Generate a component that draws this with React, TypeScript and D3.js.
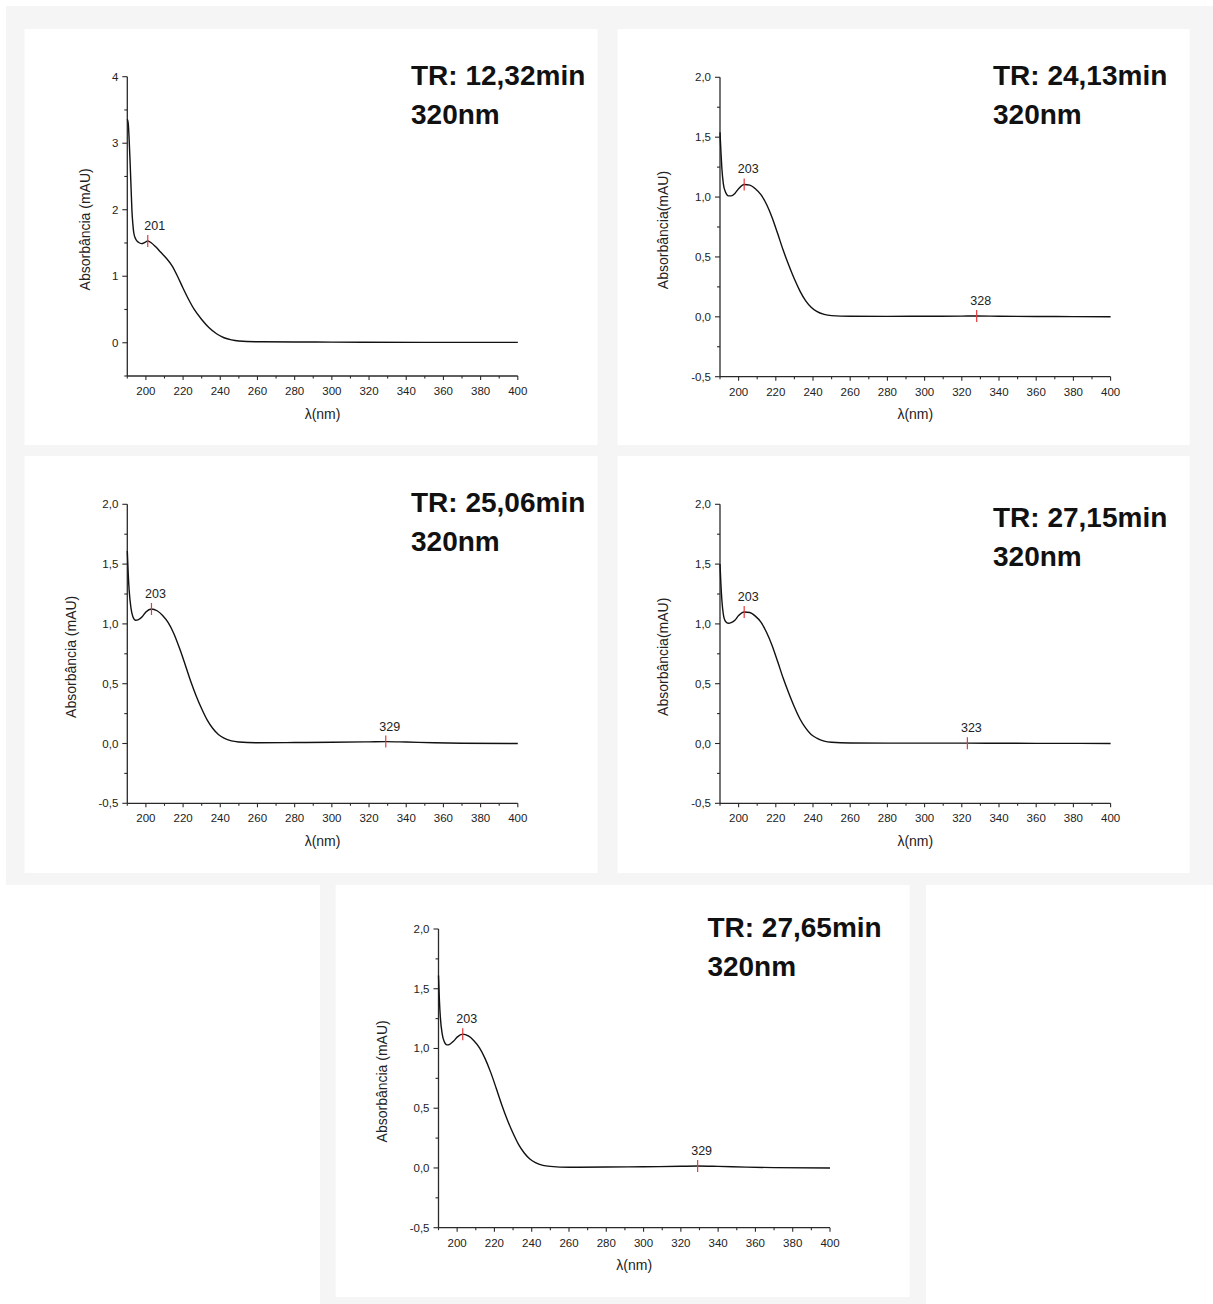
import React from "react";
import * as d3 from "d3";

const W = 1213;
const H = 1304;

// ---------- data ----------
const titles = ["TR: 12,32min", "TR: 24,13min", "TR: 25,06min", "TR: 27,15min", "TR: 27,65min"];
const subtitle = "320nm";
const yLabels = ["Absorbância (mAU)", "Absorbância(mAU)", "Absorbância (mAU)", "Absorbância(mAU)", "Absorbância (mAU)"];
const xLabel = "λ(nm)";
const xTicks = [200, 220, 240, 260, 280, 300, 320, 340, 360, 380, 400];
const xMinor = [190, 210, 230, 250, 270, 290, 310, 330, 350, 370, 390];
const yTicksA = [0, 1, 2, 3, 4];
const yMinorA = [-0.5, 0.5, 1.5, 2.5, 3.5];
const yTicksB = [-0.5, 0, 0.5, 1, 1.5, 2];
const yMinorB = [-0.25, 0.25, 0.75, 1.25, 1.75];

const wl1 = [190, 190.5, 191, 191.5, 192, 192.5, 193, 193.5, 194.5, 196, 197.7, 199.5, 201, 203, 205, 208, 211, 214, 217, 220, 223, 226, 230, 234, 238, 242, 246, 250, 260, 280, 300, 350, 400];
const abs1 = [3.36, 3.3, 3.05, 2.72, 2.35, 1.98, 1.78, 1.65, 1.56, 1.51, 1.49, 1.51, 1.53, 1.5, 1.45, 1.36, 1.27, 1.16, 1.0, 0.82, 0.65, 0.5, 0.35, 0.225, 0.135, 0.075, 0.043, 0.027, 0.015, 0.012, 0.01, 0.005, 0.005];

const wl2 = [190, 190.5, 191, 191.8, 193, 194.5, 196, 198, 200, 203, 206, 209, 212, 215, 218, 221, 224, 227, 230, 233, 236, 239, 242, 246, 250, 260, 280, 300, 320, 328, 340, 360, 380, 400];
const abs2 = [1.54, 1.38, 1.24, 1.11, 1.04, 1.01, 1.01, 1.03, 1.07, 1.105, 1.1, 1.07, 1.02, 0.94, 0.83, 0.695, 0.555, 0.43, 0.315, 0.215, 0.135, 0.08, 0.045, 0.02, 0.01, 0.005, 0.004, 0.005, 0.006, 0.007, 0.005, 0.003, 0.002, 0.0];

const wl3 = [190, 190.5, 191, 192, 193, 194.5, 196, 198, 200, 203, 206, 209, 212, 215, 218, 221, 224, 227, 230, 233, 236, 239, 242, 246, 250, 260, 280, 300, 320, 329, 340, 355, 370, 400];
const abs3 = [1.61, 1.42, 1.28, 1.13, 1.06, 1.03, 1.035, 1.06, 1.1, 1.125, 1.11, 1.07, 1.01, 0.92, 0.8, 0.665, 0.525, 0.4, 0.29, 0.195, 0.125, 0.075, 0.045, 0.022, 0.013, 0.006, 0.008, 0.01, 0.014, 0.016, 0.012, 0.006, 0.002, 0.0];

const wl4 = [190, 190.5, 191, 191.8, 193, 194.5, 196, 198, 200, 203, 206, 209, 212, 215, 218, 221, 224, 227, 230, 233, 236, 239, 242, 246, 250, 260, 280, 300, 315, 323, 340, 360, 380, 400];
const abs4 = [1.5, 1.33, 1.2, 1.08, 1.02, 1.005, 1.01, 1.03, 1.07, 1.1, 1.095, 1.065, 1.015, 0.93, 0.82, 0.685, 0.545, 0.42, 0.305, 0.205, 0.13, 0.075, 0.045, 0.02, 0.01, 0.004, 0.003, 0.003, 0.003, 0.003, 0.002, 0.001, 0.001, 0.0];

const wl5 = [190, 190.5, 191, 192, 193, 194.5, 196, 198, 200, 203, 206, 209, 212, 215, 218, 221, 224, 227, 230, 233, 236, 239, 242, 246, 250, 260, 280, 300, 320, 329, 340, 355, 370, 400];
const abs5 = [1.61, 1.4, 1.26, 1.12, 1.06, 1.03, 1.035, 1.06, 1.095, 1.12, 1.105, 1.065, 1.005, 0.915, 0.8, 0.665, 0.525, 0.4, 0.29, 0.195, 0.125, 0.075, 0.045, 0.022, 0.013, 0.006, 0.008, 0.01, 0.014, 0.016, 0.013, 0.007, 0.003, 0.0];

const peaks1 = [201];
const peaks2 = [203, 328];
const peaks3 = [203, 329];
const peaks4 = [203, 323];
const peaks5 = [203, 329];

const yDomA = [-0.5, 4];
const yDomB = [-0.5, 2];
const xDom = [190, 400];

// ---------- layout ----------
const layouts = [
  { px: 24.5, py: 29, pw: 573, ph: 416, x0: 127.3, x1: 517.8, yT: 76.7, yB: 376, tx: 411, ty: 85, ylx: 85, ldx: 7 },
  { px: 617.6, py: 29, pw: 572, ph: 416, x0: 720, x1: 1110.6, yT: 77.3, yB: 376.7, tx: 993, ty: 85, ylx: 663, ldx: 4 },
  { px: 24.5, py: 456, pw: 573, ph: 417, x0: 127.3, x1: 517.8, yT: 504.3, yB: 803.3, tx: 411, ty: 512, ylx: 71, ldx: 4 },
  { px: 617.6, py: 456, pw: 572, ph: 417, x0: 720, x1: 1110.6, yT: 504.3, yB: 803.3, tx: 993, ty: 527, ylx: 663, ldx: 4 },
  { px: 335.7, py: 885, pw: 574, ph: 412, x0: 438.5, x1: 830, yT: 929, yB: 1227.7, tx: 707.4, ty: 937, ylx: 382, ldx: 4 },
];

const commaFmt = (v: number) => d3.format(".1f")(v).replace(".", ",").replace("−", "-");

const series = [
  { wl: wl1, abs: abs1, peaks: peaks1, yDom: yDomA, yTicks: yTicksA, yMinor: yMinorA, fmt: (v: number) => d3.format("d")(v) },
  { wl: wl2, abs: abs2, peaks: peaks2, yDom: yDomB, yTicks: yTicksB, yMinor: yMinorB, fmt: commaFmt },
  { wl: wl3, abs: abs3, peaks: peaks3, yDom: yDomB, yTicks: yTicksB, yMinor: yMinorB, fmt: commaFmt },
  { wl: wl4, abs: abs4, peaks: peaks4, yDom: yDomB, yTicks: yTicksB, yMinor: yMinorB, fmt: commaFmt },
  { wl: wl5, abs: abs5, peaks: peaks5, yDom: yDomB, yTicks: yTicksB, yMinor: yMinorB, fmt: commaFmt },
];

const FONT = "'Liberation Sans', Arial, Helvetica, sans-serif";
const AXIS = "#2a2a2a";
const RED = "#e8383a";

function Panel({ i }: { i: number }) {
  const L = layouts[i];
  const S = series[i];
  const x = d3.scaleLinear().domain(xDom).range([L.x0, L.x1]);
  const y = d3.scaleLinear().domain(S.yDom).range([L.yB, L.yT]);
  const pts = S.wl.map((w, k) => [w, S.abs[k]] as [number, number]);
  const line = d3
    .line<[number, number]>()
    .x((d) => x(d[0]))
    .y((d) => y(d[1]))
    .curve(d3.curveMonotoneX);
  const interp = d3.scaleLinear().domain(S.wl).range(S.abs);
  const ymid = (L.yT + L.yB) / 2 + 3;
  return (
    <g>
      <rect x={L.px} y={L.py} width={L.pw} height={L.ph} fill="#ffffff" />
      <line x1={L.x0} x2={L.x0} y1={L.yT} y2={L.yB} stroke={AXIS} strokeWidth={1.3} />
      <line x1={L.x0} x2={L.x1} y1={L.yB} y2={L.yB} stroke={AXIS} strokeWidth={1.3} />
      {S.yTicks.map((t) => (
        <g key={"yt" + t}>
          <line x1={L.x0 - 5} x2={L.x0} y1={y(t)} y2={y(t)} stroke={AXIS} strokeWidth={1.1} />
          <text x={L.x0 - 9} y={y(t) + 4} textAnchor="end" fontSize={11.5} fontFamily={FONT} fill="#222">
            {S.fmt(t)}
          </text>
        </g>
      ))}
      {S.yMinor.map((t) => (
        <line key={"ym" + t} x1={L.x0 - 3} x2={L.x0} y1={y(t)} y2={y(t)} stroke={AXIS} strokeWidth={1.1} />
      ))}
      {xTicks.map((t) => (
        <g key={"xt" + t}>
          <line x1={x(t)} x2={x(t)} y1={L.yB} y2={L.yB + 4} stroke={AXIS} strokeWidth={1.1} />
          <text x={x(t)} y={L.yB + 19} textAnchor="middle" fontSize={11.5} fontFamily={FONT} fill="#222">
            {t}
          </text>
        </g>
      ))}
      {xMinor.map((t) => (
        <line key={"xm" + t} x1={x(t)} x2={x(t)} y1={L.yB} y2={L.yB + 2.5} stroke={AXIS} strokeWidth={1.1} />
      ))}
      <text x={(L.x0 + L.x1) / 2} y={L.yB + 42.5} textAnchor="middle" fontSize={14} fontFamily={FONT} fill="#222">
        {xLabel}
      </text>
      <text
        transform={`translate(${L.ylx + 5},${ymid}) rotate(-90)`}
        textAnchor="middle"
        fontSize={14}
        fontFamily={FONT}
        fill="#222"
      >
        {yLabels[i]}
      </text>
      <path d={line(pts) || ""} fill="none" stroke="#111" strokeWidth={1.4} />
      {S.peaks.map((p) => {
        const cy = y(interp(p));
        return (
          <g key={"pk" + p}>
            <line x1={x(p)} x2={x(p)} y1={cy - 6} y2={cy + 6} stroke={RED} strokeWidth={1.2} />
            <text x={x(p) + L.ldx} y={cy - 11} textAnchor="middle" fontSize={12.5} fontFamily={FONT} fill="#222">
              {p}
            </text>
          </g>
        );
      })}
      <text x={L.tx} y={L.ty} fontSize={28} fontWeight="bold" fontFamily={FONT} fill="#111">
        {titles[i]}
      </text>
      <text x={L.tx} y={L.ty + 38.5} fontSize={28} fontWeight="bold" fontFamily={FONT} fill="#111">
        {subtitle}
      </text>
    </g>
  );
}

export default function App() {
  return (
    <div style={{ position: "absolute", left: 0, top: 0 }}>
      <svg width={W} height={H} viewBox={`0 0 ${W} ${H}`} style={{ display: "block", background: "#ffffff" }}>
        <rect x={6} y={6} width={W - 6} height={879} fill="#f5f5f5" />
        <rect x={320} y={885} width={606} height={H - 885} fill="#f5f5f5" />
        {layouts.map((_, i) => (
          <Panel key={i} i={i} />
        ))}
      </svg>
    </div>
  );
}
